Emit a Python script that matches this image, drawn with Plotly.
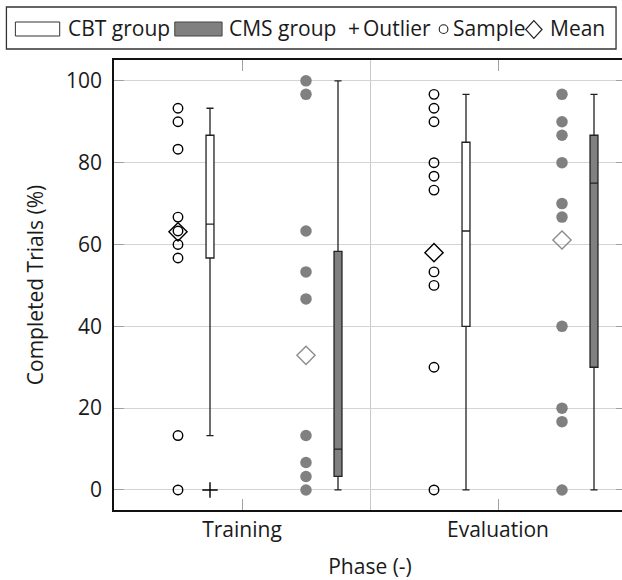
import plotly.graph_objects as go

# ---------------- data ----------------
phases = ["Training", "Evaluation"]
phase_pos = [0, 1]

cbt_samples = [
    [93.3, 90.0, 83.3, 66.7, 63.3, 60.0, 56.7, 13.3, 0.0],
    [96.7, 93.3, 90.0, 80.0, 76.7, 73.3, 53.3, 50.0, 30.0, 0.0],
]
cms_samples = [
    [100.0, 96.7, 63.3, 53.3, 46.7, 13.3, 6.7, 3.3, 0.0],
    [96.7, 90.0, 86.7, 80.0, 70.0, 66.7, 40.0, 20.0, 16.7, 0.0],
]
cbt_mean = [63.1, 58.0]
cms_mean = [32.9, 61.1]

cbt_lower = [13.3, 0.0]
cbt_q1 = [56.7, 40.0]
cbt_median = [65.0, 63.3]
cbt_q3 = [86.7, 85.0]
cbt_upper = [93.3, 96.7]

cms_lower = [0.0, 0.0]
cms_q1 = [3.3, 30.0]
cms_median = [10.0, 75.0]
cms_q3 = [58.3, 86.7]
cms_upper = [100.0, 96.7]

cbt_outliers = [[0.0], []]
cms_outliers = [[], []]

# ---------------- layout constants ----------------
W, H = 628, 580
ML, MR, MT, MB = 114, 0, 60, 70
OFF_CBT_S, OFF_CBT_B, OFF_CMS_S, OFF_CMS_B = -0.25, -0.125, 0.25, 0.375
BOXW = 0.031
FONT = "Open Sans"
FS = 21
TXT = "#1a1a1a"

fig = go.Figure()

# samples
for i, p in enumerate(phase_pos):
    fig.add_trace(go.Scatter(
        x=[p + OFF_CBT_S] * len(cbt_samples[i]), y=cbt_samples[i], mode="markers",
        marker=dict(symbol="circle-open", size=9.5, color="black", line=dict(width=1.4, color="black")),
        showlegend=False, hoverinfo="y"))
    fig.add_trace(go.Scatter(
        x=[p + OFF_CMS_S] * len(cms_samples[i]), y=cms_samples[i], mode="markers",
        marker=dict(symbol="circle", size=11.5, color="#808080", line=dict(width=0)),
        showlegend=False, hoverinfo="y"))

# means
fig.add_trace(go.Scatter(
    x=[p + OFF_CBT_S for p in phase_pos], y=cbt_mean, mode="markers",
    marker=dict(symbol="diamond-open", size=14, color="black", line=dict(width=1.4, color="black")),
    showlegend=False))
fig.add_trace(go.Scatter(
    x=[p + OFF_CMS_S for p in phase_pos], y=cms_mean, mode="markers",
    marker=dict(symbol="diamond-open", size=14, color="#8c8c8c", line=dict(width=1.4, color="#8c8c8c")),
    showlegend=False))

# boxes
fig.add_trace(go.Box(
    x=[p + OFF_CBT_B for p in phase_pos], q1=cbt_q1, median=cbt_median, q3=cbt_q3,
    lowerfence=cbt_lower, upperfence=cbt_upper, width=BOXW, whiskerwidth=0.9,
    fillcolor="white", line=dict(color="#222222", width=1.3), boxpoints=False,
    showlegend=False, hoverinfo="skip"))
fig.add_trace(go.Box(
    x=[p + OFF_CMS_B for p in phase_pos], q1=cms_q1, median=cms_median, q3=cms_q3,
    lowerfence=cms_lower, upperfence=cms_upper, width=BOXW, whiskerwidth=0.9,
    fillcolor="#808080", line=dict(color="#222222", width=1.3), boxpoints=False,
    showlegend=False, hoverinfo="skip"))

# outliers
ox, oy = [], []
for i, p in enumerate(phase_pos):
    for v in cbt_outliers[i]:
        ox.append(p + OFF_CBT_B); oy.append(v)
    for v in cms_outliers[i]:
        ox.append(p + OFF_CMS_B); oy.append(v)
fig.add_trace(go.Scatter(
    x=ox, y=oy, mode="markers",
    marker=dict(symbol="cross-thin-open", size=11, color="black", line=dict(width=1.4, color="black")),
    showlegend=False))

# ---------------- custom legend (paper coords from pixels) ----------------
PW = W - ML - MR
PH = H - MT - MB


def px(xp):
    return (xp - ML) / PW


def py(yp):
    return (H - MB - yp) / PH


shapes = []
annotations = []
shapes.append(dict(type="rect", xref="paper", yref="paper", x0=px(6), x1=px(618), y0=py(49), y1=py(7),
                   line=dict(color="#333333", width=1.3), fillcolor="white", layer="above"))
shapes.append(dict(type="rect", xref="paper", yref="paper", x0=px(15), x1=px(59.5), y0=py(36), y1=py(22),
                   line=dict(color="#333333", width=1), fillcolor="white", layer="above"))
shapes.append(dict(type="rect", xref="paper", yref="paper", x0=px(175), x1=px(222.5), y0=py(36), y1=py(22),
                   line=dict(color="#444444", width=1), fillcolor="#808080", layer="above"))
shapes.append(dict(type="circle", xref="paper", yref="paper", x0=px(440.5), x1=px(449.2), y0=py(33.5), y1=py(24.8),
                   line=dict(color="#222222", width=1.1), fillcolor="rgba(0,0,0,0)", layer="above"))
cx, cy, hw, hh = 535.5, 29.5, 8.2, 8.8
shapes.append(dict(type="path", xref="paper", yref="paper",
                   path=f"M {px(cx - hw)},{py(cy)} L {px(cx)},{py(cy - hh)} L {px(cx + hw)},{py(cy)} L {px(cx)},{py(cy + hh)} Z",
                   line=dict(color="#222222", width=1.2), fillcolor="rgba(0,0,0,0)", layer="above"))

legend_texts = [("CBT group", 66.0), ("CMS group", 227.0), ("+", 347.0), ("Outlier", 362.0),
                ("Sample", 452.0), ("Mean", 550.0)]
for t, x0 in legend_texts:
    annotations.append(dict(text=t, xref="paper", yref="paper", x=px(x0), y=py(28.5),
                            xanchor="left", yanchor="middle", showarrow=False,
                            font=dict(family=FONT, size=FS, color=TXT)))

fig.update_layout(
    width=W, height=H,
    margin=dict(l=ML, r=MR, t=MT, b=MB, pad=0),
    paper_bgcolor="white", plot_bgcolor="white",
    boxmode="overlay",
    font=dict(family=FONT, size=FS, color=TXT),
    shapes=shapes, annotations=annotations,
    xaxis=dict(
        range=[-0.5, 1.5],
        tickmode="array", tickvals=phase_pos, ticktext=phases,
        ticks="inside", ticklen=11, tickcolor="#a0a0a0", tickwidth=1,
        showline=True, linecolor="#111111", linewidth=1.5, mirror="ticks",
        showgrid=False, zeroline=False,
        minor=dict(tickmode="array", tickvals=[0.5], showgrid=True, gridcolor="#c8c8c8", gridwidth=1, ticks=""),
        title=dict(text="Phase (-)", standoff=22, font=dict(family=FONT, size=FS, color=TXT)),
        tickfont=dict(family=FONT, size=FS, color=TXT),
    ),
    yaxis=dict(
        range=[-4.9, 105.1],
        tickmode="array", tickvals=[0, 20, 40, 60, 80, 100],
        ticks="inside", ticklen=10, tickcolor="#a0a0a0", tickwidth=1,
        showline=True, linecolor="#111111", linewidth=1.5, mirror="ticks",
        showgrid=True, gridcolor="#d4d4d4", gridwidth=1.2, zeroline=False,
        title=dict(text="Completed Trials (%)", standoff=17, font=dict(family=FONT, size=FS, color=TXT)),
        tickfont=dict(family=FONT, size=FS, color=TXT),
        ticklabelstandoff=6,
    ),
)

fig.write_html(
    "out.html",
    config={"displayModeBar": False},
    post_script="document.body.style.margin='0';document.body.style.overflow='hidden';"
                "document.documentElement.style.overflow='hidden';",
)
